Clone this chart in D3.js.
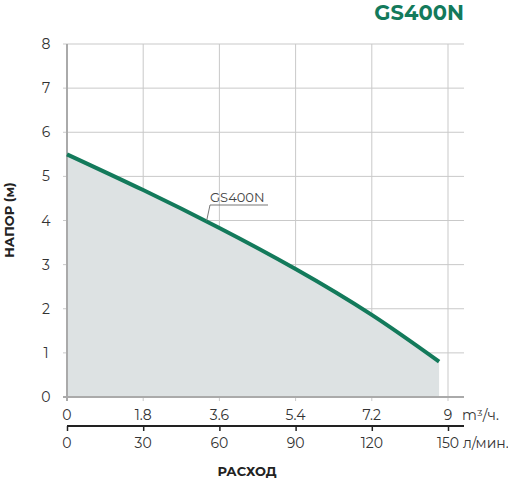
<!DOCTYPE html>
<html><head><meta charset="utf-8">
<script src="https://cdn.jsdelivr.net/npm/d3@7"></script>
<style>body{margin:0;background:#fff;font-family:Montserrat,"Open Sans",sans-serif;}</style>
</head><body><svg id="c" width="508" height="479"></svg>
<script>
const flow = [0, 1.8, 3.6, 5.4, 7.2, 8.79];
const head = [5.5, 4.69, 3.83, 2.9, 1.86, 0.8];
const yTicks = [0, 1, 2, 3, 4, 5, 6, 7, 8];
const m3Ticks = [0, 1.8, 3.6, 5.4, 7.2, 9];
const lpmTicks = [0, 30, 60, 90, 120, 150];

const svg = d3.select('#c');
const x = d3.scaleLinear().domain([0, 9]).range([67, 448]);
const xl = d3.scaleLinear().domain([0, 150]).range([67, 448]);
const y = d3.scaleLinear().domain([0, 8]).range([397, 44]);
const green = '#137a5b';

// grid
svg.append('g').selectAll('line').data(yTicks.slice(1)).join('line')
  .attr('x1', 63).attr('x2', 464).attr('y1', d => y(d)).attr('y2', d => y(d))
  .attr('stroke', '#c9c9c9').attr('stroke-width', 1);
svg.append('g').selectAll('line').data(m3Ticks.slice(1)).join('line')
  .attr('x1', d => x(d)).attr('x2', d => x(d)).attr('y1', 44).attr('y2', 401)
  .attr('stroke', '#c9c9c9');

const pts = flow.map((f, i) => [f, head[i]]);
svg.append('path').datum(pts)
  .attr('d', d3.area().x(d => x(d[0])).y0(y(0)).y1(d => y(d[1])).curve(d3.curveNatural))
  .attr('fill', '#dde2e3');

// axes lines
svg.append('line').attr('x1', 67).attr('x2', 67).attr('y1', 44).attr('y2', 401).attr('stroke', '#aaa').attr('stroke-width', 2);
svg.append('line').attr('x1', 63).attr('x2', 464).attr('y1', 397).attr('y2', 397).attr('stroke', '#aaa').attr('stroke-width', 2);

svg.append('path').datum(pts)
  .attr('d', d3.line().x(d => x(d[0])).y(d => y(d[1])).curve(d3.curveNatural))
  .attr('fill', 'none').attr('stroke', green).attr('stroke-width', 4);

const txt = (g) => g.attr('font-size', 14).attr('fill', '#333');
svg.append('g').selectAll('text').data(yTicks).join('text')
  .attr('x', 46).attr('y', d => y(d) + 5).attr('text-anchor', 'middle').text(d => d).call(txt);
svg.append('g').selectAll('text').data(m3Ticks).join('text')
  .attr('x', d => x(d)).attr('y', 420).attr('text-anchor', 'middle').text(d => d).call(txt);
svg.append('text').attr('x', 462).attr('y', 420).text('m³/ч.').call(txt);

// second axis
const ax2 = svg.append('g').attr('transform', 'translate(0,426)')
  .call(d3.axisBottom(xl).tickValues(lpmTicks).tickSize(5).tickFormat(''));
ax2.select('.domain').attr('d', 'M67,0H464').attr('stroke', '#222').attr('stroke-width', 2);
ax2.selectAll('.tick line').attr('stroke', '#222').attr('stroke-width', 1.5);
svg.append('g').selectAll('text').data(lpmTicks).join('text')
  .attr('x', d => xl(d)).attr('y', 448).attr('text-anchor', 'middle').text(d => d).call(txt);
svg.append('text').attr('x', 463).attr('y', 448).text('л/мин.').call(txt);

svg.append('text').attr('x', 247).attr('y', 476).attr('text-anchor', 'middle')
  .attr('font-size', 13).attr('font-weight', 'bold').attr('fill', '#222').text('РАСХОД');
svg.append('text').attr('transform', 'translate(14,220) rotate(-90)').attr('text-anchor', 'middle')
  .attr('font-size', 13).attr('font-weight', 'bold').attr('fill', '#222').text('НАПОР (м)');
svg.append('text').attr('x', 464).attr('y', 20).attr('text-anchor', 'end')
  .attr('font-size', 21).attr('font-weight', 'bold').attr('fill', green).text('GS400N');

// label
svg.append('text').attr('x', 210).attr('y', 202).attr('font-size', 13).attr('fill', '#444').text('GS400N');
svg.append('path').attr('d', `M268,205H210L${x(3.3)},${y(4.0)}`).attr('fill', 'none').attr('stroke', '#777');
</script></body></html>
